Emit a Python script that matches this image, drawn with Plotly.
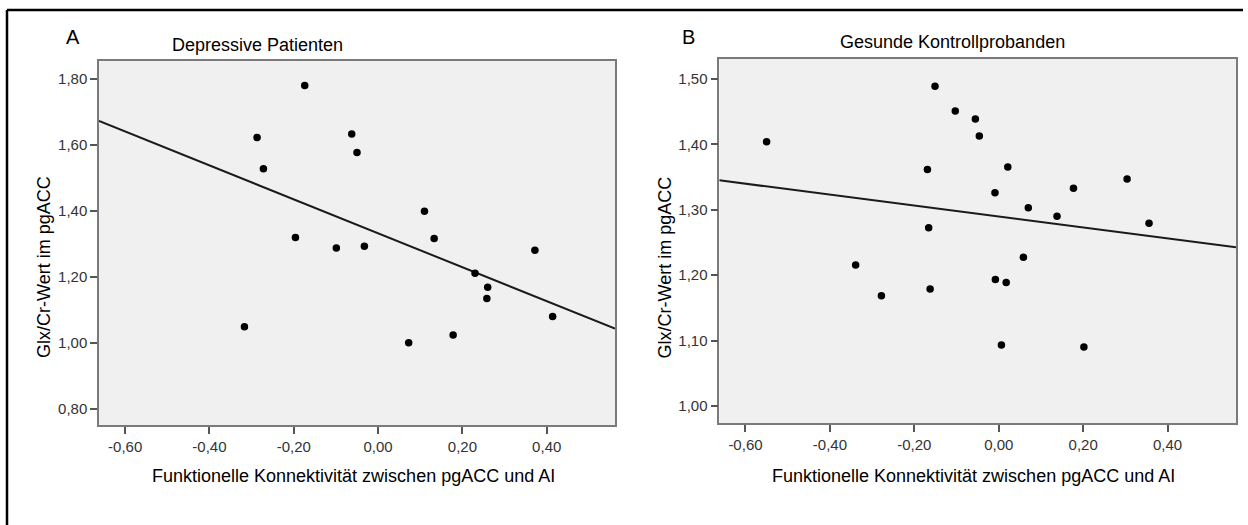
import numpy as np
import plotly.graph_objects as go

W, H = 1248, 525

# ---------------- data ----------------
dep_x = [-0.174, -0.287, -0.272, -0.0625, -0.050, 0.110, 0.133, -0.196, -0.099,
         -0.0325, 0.372, 0.230, 0.260, 0.258, 0.414, 0.178, 0.0726, -0.317]
dep_y = [1.780, 1.623, 1.528, 1.633, 1.577, 1.399, 1.317, 1.320, 1.288,
         1.293, 1.281, 1.211, 1.169, 1.135, 1.080, 1.024, 1.001, 1.049]

ctl_x = [-0.550, -0.151, -0.103, -0.0554, -0.046, -0.169, 0.0214, -0.009, 0.070,
         0.138, 0.177, 0.304, 0.356, -0.166, -0.339, -0.278, -0.1626, 0.0584,
         -0.008, 0.0176, 0.0063, 0.2017]
ctl_y = [1.404, 1.489, 1.451, 1.439, 1.413, 1.3615, 1.3656, 1.326, 1.303,
         1.290, 1.333, 1.347, 1.2795, 1.2724, 1.2154, 1.1685, 1.1787, 1.2276,
         1.1935, 1.189, 1.0932, 1.090]

x_tickvals = [-0.6, -0.4, -0.2, 0.0, 0.2, 0.4]
x_ticktext = ["-0,60", "-0,40", "-0,20", "0,00", "0,20", "0,40"]
ya_tickvals = [0.8, 1.0, 1.2, 1.4, 1.6, 1.8]
ya_ticktext = ["0,80", "1,00", "1,20", "1,40", "1,60", "1,80"]
yb_tickvals = [1.0, 1.1, 1.2, 1.3, 1.4, 1.5]
yb_ticktext = ["1,00", "1,10", "1,20", "1,30", "1,40", "1,50"]

x_range = [-0.662, 0.562]
ya_range = [0.7515, 1.8555]
yb_range = [0.9735, 1.5306]

panel_letters = ["A", "B"]
panel_titles = ["Depressive Patienten", "Gesunde Kontrollprobanden"]
x_title = "Funktionelle Konnektivität zwischen pgACC und AI"
y_title = "Glx/Cr-Wert im pgACC"

FONT = "Liberation Sans, Arial, sans-serif"


def px(x):
    return x / W


def py(y):
    return 1 - y / H


fig = go.Figure()

for i, (xs, ys) in enumerate([(dep_x, dep_y), (ctl_x, ctl_y)]):
    ax = "x" if i == 0 else "x2"
    ay = "y" if i == 0 else "y2"
    slope, icpt = np.polyfit(np.array(xs), np.array(ys), 1)
    lx = np.array(x_range)
    fig.add_trace(go.Scatter(x=lx, y=icpt + slope * lx, mode="lines",
                             line=dict(color="#1a1a1a", width=2),
                             xaxis=ax, yaxis=ay, showlegend=False, hoverinfo="skip"))
    fig.add_trace(go.Scatter(x=xs, y=ys, mode="markers",
                             marker=dict(color="black", size=7.5),
                             xaxis=ax, yaxis=ay, showlegend=False))

axis_common = dict(showgrid=False, zeroline=False, showline=True, mirror=True,
                   linecolor="#7a7a7a", linewidth=1.5, ticks="outside",
                   ticklen=7, tickwidth=1.5, tickcolor="#555555",
                   tickfont=dict(family=FONT, size=15, color="#333333"))

fig.update_layout(
    width=W, height=H,
    margin=dict(l=0, r=0, t=0, b=0),
    paper_bgcolor="white",
    plot_bgcolor="#f0f0f0",
    xaxis=dict(domain=[px(99), px(615)], range=x_range, anchor="y",
               tickvals=x_tickvals, ticktext=x_ticktext, **axis_common),
    yaxis=dict(domain=[py(425), py(60.7)], range=ya_range, anchor="x",
               tickvals=ya_tickvals, ticktext=ya_ticktext, **axis_common),
    xaxis2=dict(domain=[px(719.3), px(1236)], range=x_range, anchor="y2",
                tickvals=x_tickvals, ticktext=x_ticktext, **axis_common),
    yaxis2=dict(domain=[py(423.3), py(59)], range=yb_range, anchor="x2",
                tickvals=yb_tickvals, ticktext=yb_ticktext, **axis_common),
)

annots = []
letter_pos = [(73, 37), (688, 37)]
title_pos = [(257, 45), (953, 42)]
xt_pos = [(353, 476), (973.5, 476)]
yt_pos = [(43.5, 267.5), (664, 267.5)]
for i in range(2):
    annots.append(dict(x=px(letter_pos[i][0]), y=py(letter_pos[i][1]), xref="paper", yref="paper",
                       text=panel_letters[i], showarrow=False, xanchor="center", yanchor="middle",
                       font=dict(family=FONT, size=20, color="black")))
    annots.append(dict(x=px(title_pos[i][0]), y=py(title_pos[i][1]), xref="paper", yref="paper",
                       text=panel_titles[i], showarrow=False, xanchor="center", yanchor="middle",
                       font=dict(family=FONT, size=18, color="black")))
    annots.append(dict(x=px(xt_pos[i][0]), y=py(xt_pos[i][1]), xref="paper", yref="paper",
                       text=x_title, showarrow=False, xanchor="center", yanchor="middle",
                       font=dict(family=FONT, size=18, color="black")))
    annots.append(dict(x=px(yt_pos[i][0]), y=py(yt_pos[i][1]), xref="paper", yref="paper",
                       text=y_title, showarrow=False, xanchor="center", yanchor="middle",
                       textangle=-90, font=dict(family=FONT, size=18, color="black")))
fig.update_layout(annotations=annots)

# outer frame (top and left edges)
fig.add_shape(type="line", xref="paper", yref="paper", x0=px(7), x1=px(1243), y0=py(10), y1=py(10),
              line=dict(color="black", width=2.5))
fig.add_shape(type="line", xref="paper", yref="paper", x0=px(7), x1=px(7), y0=py(10), y1=py(525),
              line=dict(color="black", width=2.5))

fig.write_html("out.html", config={"displayModeBar": False},
               post_script="document.body.style.margin='0px';document.body.style.overflow='hidden';")
